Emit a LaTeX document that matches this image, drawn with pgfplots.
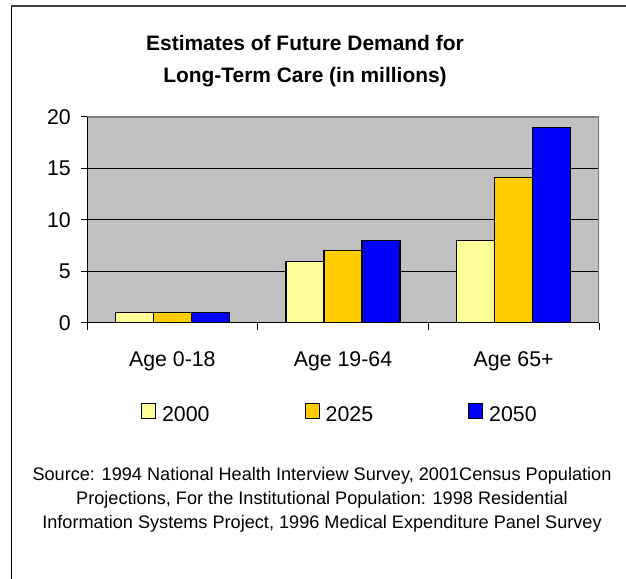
\documentclass[border=0pt]{standalone}
\usepackage{fontspec}
\setmainfont{Liberation Sans}
\usepackage{pgfplots}
\pgfplotsset{compat=1.18}
\definecolor{c2000}{HTML}{FFFF99}
\definecolor{c2025}{HTML}{FFCC00}
\definecolor{c2050}{HTML}{0000FF}
\definecolor{plotbg}{HTML}{C0C0C0}

\begin{document}
\begin{tikzpicture}
\useasboundingbox (0,0) rectangle (469.5pt,434.25pt);
% chart frame
\draw[black, line width=0.75pt] (8.25pt,0) -- (8.25pt,429.75pt);
\draw[black!75, line width=1.6pt] (8.25pt,429.75pt) -- (469.5pt,429.75pt);

% title
\node[anchor=base, inner sep=0pt, font=\bfseries\fontsize{15.7}{18}\selectfont] at (228.75pt,396.4pt) {Estimates of Future Demand for};
\node[anchor=base, inner sep=0pt, font=\bfseries\fontsize{15.7}{18}\selectfont] at (228.75pt,372.4pt) {Long-Term Care (in millions)};

\begin{axis}[
    at={(65.25pt,192pt)}, anchor=south west,
    width=384pt, height=154.5pt, scale only axis,
    xmin=-0.5, xmax=2.5,
    ymin=0, ymax=20,
    ytick={0,5,10,15,20},
    xtick={0,1,2},
    xticklabels={Age 0-18, Age 19-64, Age 65+},
    minor xtick={-0.5,0.5,1.5,2.5},
    xtick pos=bottom, ytick pos=left,
    tick align=outside,
    major tick length=4.5pt,
    minor tick length=5.25pt,
    major x tick style={draw=none},
    minor x tick style={draw=black, line width=0.75pt},
    major y tick style={draw=black, line width=0.75pt},
    ymajorgrids,
    major grid style={black, line width=0.75pt},
    axis line style={draw=none},
    axis background/.style={fill=plotbg},
    /pgf/number format/assume math mode=true,
    tick label style={font=\fontsize{16}{19}\selectfont},
    xticklabel style={anchor=base, inner sep=0pt, yshift=-28.5pt},
    yticklabel style={anchor=east, inner sep=0pt, xshift=-7.5pt},
    legend columns=3,
    legend style={
        at={(0.1055,-0.4375)}, anchor=west,
        draw=none, fill=none, inner sep=0pt, outer sep=0pt,
        font=\fontsize{16}{19}\selectfont,
        nodes={inner sep=0pt},
        /tikz/every even column/.append style={column sep=71.25pt},
    },
    sqleg/.style={legend image code/.code={
        \draw[##1, line width=0.75pt] (0pt,-2.25pt) rectangle (10.5pt,9pt);
        \path (15pt,0pt);}},
]
\addplot[ybar, bar width=0.2227, bar shift=-0.2227, fill=c2000, draw=black, line width=0.9pt, sqleg]
    coordinates {(0,1) (1,6) (2,8)};
\addplot[ybar, bar width=0.2227, bar shift=0, fill=c2025, draw=black, line width=0.9pt, sqleg]
    coordinates {(0,1) (1,7) (2,14.1)};
\addplot[ybar, bar width=0.2227, bar shift=0.2227, fill=c2050, draw=black, line width=0.9pt, sqleg]
    coordinates {(0,1) (1,8) (2,19)};
\legend{2000, 2025, 2050}
% plot area border
\draw[gray, line width=1.5pt] (rel axis cs:0,1) -- (rel axis cs:1,1) -- (rel axis cs:1,0);
\draw[black, line width=0.75pt] (rel axis cs:0,1) -- (rel axis cs:0,0) -- (rel axis cs:1,0);
\end{axis}

% source note
\node[anchor=base, inner sep=0pt, font=\fontsize{13.6}{16}\selectfont] at (241.5pt,73.7pt) {Source: 1994 National Health Interview Survey, 2001Census Population};
\node[anchor=base, inner sep=0pt, font=\fontsize{13.6}{16}\selectfont] at (241.5pt,55.5pt) {Projections, For the Institutional Population: 1998 Residential};
\node[anchor=base, inner sep=0pt, font=\fontsize{13.6}{16}\selectfont] at (241.5pt,37.7pt) {Information Systems Project, 1996 Medical Expenditure Panel Survey};
\end{tikzpicture}
\end{document}
